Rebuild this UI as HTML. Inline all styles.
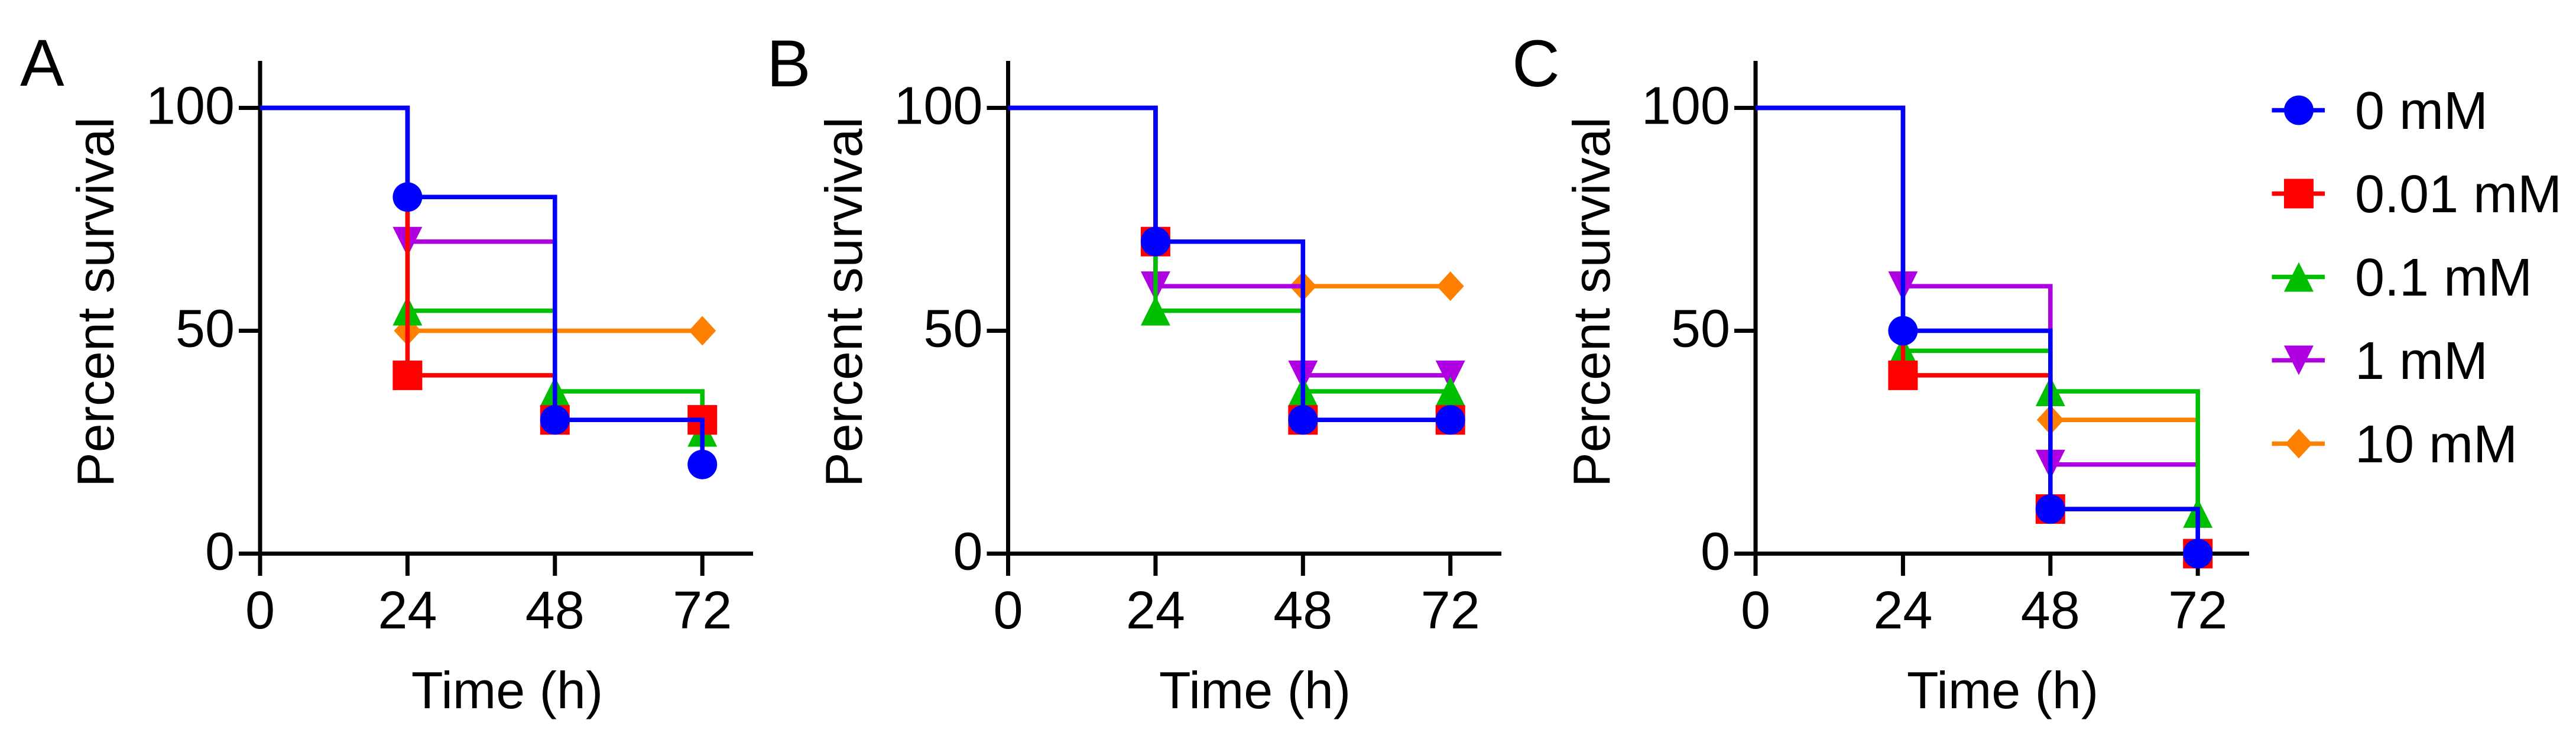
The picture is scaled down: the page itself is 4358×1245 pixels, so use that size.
<!DOCTYPE html>
<html lang="en">
<head>
<meta charset="utf-8">
<title>Percent survival over time</title>
<style>
html,body{margin:0;padding:0;background:#fff;}
svg{display:block;}
text{font-family:"Liberation Sans",Arial,sans-serif;fill:#000;}
.tick{font-size:90px;}
.title{font-size:88px;}
.letter{font-size:112px;}
.legend-text{font-size:90px;}
</style>
</head>
<body>
<svg id="chart" xmlns="http://www.w3.org/2000/svg" width="4358" height="1245" viewBox="0 0 4358 1245">
  <rect width="4358" height="1245" fill="#fff"/>

  <g id="panel-a">
    <text class="letter" x="34" y="145">A</text>
    <text class="title" transform="translate(192 511) rotate(-90)" text-anchor="middle">Percent survival</text>
    <text class="title" x="858" y="1198" text-anchor="middle">Time (h)</text>
  </g>
  <g id="panel-b">
    <text class="letter" x="1297" y="146">B</text>
    <text class="title" transform="translate(1458 511) rotate(-90)" text-anchor="middle">Percent survival</text>
    <text class="title" x="2123" y="1198" text-anchor="middle">Time (h)</text>
  </g>
  <g id="panel-c">
    <text class="letter" x="2558" y="146">C</text>
    <text class="title" transform="translate(2723 511) rotate(-90)" text-anchor="middle">Percent survival</text>
    <text class="title" x="3388" y="1198" text-anchor="middle">Time (h)</text>
  </g>

  <g id="legend">
    <text class="legend-text" x="3984" y="218">0 mM</text>
    <text class="legend-text" x="3984" y="359">0.01 mM</text>
    <text class="legend-text" x="3984" y="500">0.1 mM</text>
    <text class="legend-text" x="3984" y="641">1 mM</text>
    <text class="legend-text" x="3984" y="782">10 mM</text>
  </g>
</svg>

<script>
// Data: hours and percent survival at each time point
var timePoints = [0, 24, 48, 72];
var yTickValues = [0, 50, 100];

var panelA0mM   = [100, 80, 30, 20];
var panelA001mM = [100, 40, 30, 30];
var panelA01mM  = [100, 54.5, 36.4, 27.3];
var panelA1mM   = [100, 70, 30, 30];
var panelA10mM  = [100, 50, 50, 50];

var panelB0mM   = [100, 70, 30, 30];
var panelB001mM = [100, 70, 30, 30];
var panelB01mM  = [100, 54.5, 36.4, 36.4];
var panelB1mM   = [100, 60, 40, 40];
var panelB10mM  = [100, 70, 60, 60];

var panelC0mM   = [100, 50, 10, 0];
var panelC001mM = [100, 40, 10, 0];
var panelC01mM  = [100, 45.5, 36.4, 9.1];
var panelC1mM   = [100, 60, 20, 0];
var panelC10mM  = [100, 50, 30, 0];

// Series keys, drawn back to front
var seriesKeys = ['10-mm', '1-mm', '0-1-mm', '0-01-mm', '0-mm'];
var panelAValues = [panelA10mM, panelA1mM, panelA01mM, panelA001mM, panelA0mM];
var panelBValues = [panelB10mM, panelB1mM, panelB01mM, panelB001mM, panelB0mM];
var panelCValues = [panelC10mM, panelC1mM, panelC01mM, panelC001mM, panelC0mM];
var seriesColors = ['#ff8000', '#ae00e0', '#00bf00', '#ff0000', '#0000ff'];
var seriesShapes = ['diamond', 'down', 'up', 'square', 'circle'];

var NS = 'http://www.w3.org/2000/svg';
var LINE_W = 7.5;
var AXIS_W = 7;
var Y0_PX = 936.5;
var PX_PER_PCT = 7.54;
var PX_PER_HOUR = 249.4 / 24;

function make(tag, attrs, parent) {
  var n = document.createElementNS(NS, tag);
  for (var k in attrs) { n.setAttribute(k, attrs[k]); }
  parent.appendChild(n);
  return n;
}
function yScale(v) { return Y0_PX - v * PX_PER_PCT; }
function xScale(originX, t) { return originX + t * PX_PER_HOUR; }

function drawMarker(shape, cx, cy, color, parent) {
  var m;
  if (shape === 'circle') {
    m = make('circle', {cx: cx, cy: cy, r: 25, fill: color}, parent);
  } else if (shape === 'square') {
    m = make('rect', {x: cx - 25, y: cy - 25, width: 50, height: 50, fill: color}, parent);
  } else if (shape === 'up') {
    m = make('polygon', {points: cx + ',' + (cy - 25) + ' ' + (cx + 25) + ',' + (cy + 25) + ' ' + (cx - 25) + ',' + (cy + 25), fill: color}, parent);
  } else if (shape === 'down') {
    m = make('polygon', {points: (cx - 25) + ',' + (cy - 25) + ' ' + (cx + 25) + ',' + (cy - 25) + ' ' + cx + ',' + (cy + 25), fill: color}, parent);
  } else {
    m = make('polygon', {points: cx + ',' + (cy - 25) + ' ' + (cx + 23) + ',' + cy + ' ' + cx + ',' + (cy + 25) + ' ' + (cx - 23) + ',' + cy, fill: color}, parent);
  }
  return m;
}

function drawAxes(group, prefix, originX, rightX) {
  var yLine = make('line', {x1: originX, x2: originX, y1: 103, y2: 974, stroke: '#000', 'stroke-width': AXIS_W}, group);
  
  
  var xLine = make('line', {x1: originX - 36, x2: rightX, y1: Y0_PX, y2: Y0_PX, stroke: '#000', 'stroke-width': AXIS_W}, group);
  
  

  yTickValues.forEach(function (v) {
    var y = yScale(v);
    var tick = make('line', {x1: originX - 36, x2: originX, y1: y, y2: y, stroke: '#000', 'stroke-width': AXIS_W}, group);
    
    
    var label = make('text', {'class': 'tick', x: originX - 43, y: y + 27, 'text-anchor': 'end'}, group);
    label.textContent = String(v);
    
    
  });

  timePoints.forEach(function (t) {
    var x = xScale(originX, t);
    var tick = make('line', {x1: x, x2: x, y1: Y0_PX, y2: 974, stroke: '#000', 'stroke-width': AXIS_W}, group);
    
    
    var label = make('text', {'class': 'tick', x: x, y: 1063, 'text-anchor': 'middle'}, group);
    label.textContent = String(t);
    
    
  });
}

function drawSeries(group, prefix, originX, values, index) {
  var color = seriesColors[index];
  var g = make('g', {}, group);
  
  

  var d = 'M' + xScale(originX, timePoints[0]) + ' ' + yScale(values[0]);
  for (var i = 1; i < values.length; i++) {
    d += ' H' + xScale(originX, timePoints[i]) + ' V' + yScale(values[i]);
  }
  var path = make('path', {d: d, fill: 'none', stroke: color, 'stroke-width': LINE_W, 'stroke-linejoin': 'miter'}, g);
  
  

  // A marker appears wherever survival drops and at the final time point.
  for (var j = 1; j < values.length; j++) {
    if (values[j] !== values[j - 1] || j === values.length - 1) {
      var marker = drawMarker(seriesShapes[index], xScale(originX, timePoints[j]), yScale(values[j]), color, g);
      
      
    }
  }
}

function drawPanel(groupId, prefix, originX, rightX, panelValues) {
  var group = document.getElementById(groupId);
  drawAxes(group, prefix, originX, rightX);
  panelValues.forEach(function (values, index) {
    drawSeries(group, prefix, originX, values, index);
  });
}

drawPanel('panel-a', 'panel-a', 440, 1274, panelAValues);
drawPanel('panel-b', 'panel-b', 1705.5, 2540, panelBValues);
drawPanel('panel-c', 'panel-c', 2970, 3805, panelCValues);

// Legend swatches, listed top to bottom (reverse of the draw order)
var legend = document.getElementById('legend');
for (var s = seriesKeys.length - 1, row = 0; s >= 0; s--, row++) {
  var rowY = 186.5 + row * 141;
  var swatch = make('line', {x1: 3843.5, x2: 3933, y1: rowY, y2: rowY, stroke: seriesColors[s], 'stroke-width': LINE_W}, legend);
  
  
  var glyph = drawMarker(seriesShapes[s], 3889, rowY, seriesColors[s], legend);
  
  
}
</script>
</body>
</html>
